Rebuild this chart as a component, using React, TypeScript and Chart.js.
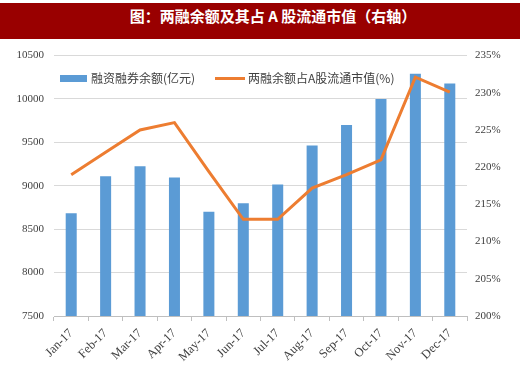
import React, { useEffect, useRef } from "react";
import { Chart, registerables } from "chart.js";

Chart.register(...registerables);

const months = ["Jan-17", "Feb-17", "Mar-17", "Apr-17", "May-17", "Jun-17", "Jul-17", "Aug-17", "Sep-17", "Oct-17", "Nov-17", "Dec-17"];
const balance = [8685, 9110, 9225, 9095, 8700, 8800, 9015, 9465, 9700, 10000, 10290, 10180];
const ratio = [219.0, 222.0, 225.0, 226.0, 219.4, 213.0, 213.0, 217.2, 219.0, 221.0, 232.1, 230.1];
const balanceLabel = "融资融券余额(亿元)";
const ratioLabel = "两融余额占A股流通市值(%)";
const titleText = "图：两融余额及其占 A 股流通市值（右轴）";
const barColor = "#5B9BD5";
const lineColor = "#ED7D31";

export default function App() {
  const ref = useRef<HTMLCanvasElement>(null);
  useEffect(() => {
    document.body.style.margin = "0";
    if (!ref.current) return;
    const tickFont = { family: "'Liberation Serif', serif", size: 11 };
    const chart = new Chart(ref.current, {
      type: "bar",
      data: {
        labels: months,
        datasets: [
          {
            type: "bar",
            label: balanceLabel,
            data: balance,
            backgroundColor: barColor,
            borderWidth: 0,
            barPercentage: 0.32,
            categoryPercentage: 1,
            yAxisID: "y",
            order: 2,
          } as any,
          {
            type: "line",
            label: ratioLabel,
            data: ratio,
            borderColor: lineColor,
            backgroundColor: lineColor,
            borderWidth: 3,
            pointRadius: 0,
            tension: 0,
            yAxisID: "y1",
            order: 1,
          } as any,
        ],
      },
      options: {
        animation: false,
        responsive: false,
        maintainAspectRatio: false,
        layout: { padding: { top: 14, left: 0, right: 0, bottom: 0 } },
        plugins: {
          tooltip: { enabled: false },
          legend: { display: false },
        },
        scales: {
          x: {
            offset: true,
            grid: { display: true, drawOnChartArea: false, drawTicks: true, tickLength: 5, offset: true, color: "#BFBFBF" },
            border: { display: true, color: "#BFBFBF" },
            ticks: { color: "#404040", font: { family: "'Liberation Serif', serif", size: 12.5 }, minRotation: 45, maxRotation: 45, padding: 5 },
            afterFit: (s: any) => { s.height = 50; },
          },
          y: {
            position: "left",
            min: 7500,
            max: 10500,
            grid: { color: "#D9D9D9", drawTicks: false },
            border: { display: false },
            ticks: { stepSize: 500, color: "#404040", font: tickFont, padding: 10, callback: (v: any) => String(v) },
            afterFit: (s: any) => { s.width = 54; },
          },
          y1: {
            position: "right",
            min: 200,
            max: 235,
            grid: { drawOnChartArea: false, drawTicks: false },
            border: { display: false },
            ticks: { stepSize: 5, color: "#404040", font: tickFont, padding: 8, callback: (v: any) => `${v}%` },
            afterFit: (s: any) => { s.width = 53; },
          },
        },
      },
    });
    return () => chart.destroy();
  }, []);

  const legendText: React.CSSProperties = {
    position: "absolute",
    top: 0,
    fontFamily: "'Noto Sans CJK SC', sans-serif",
    fontSize: 12,
    lineHeight: "16px",
    color: "#404040",
    whiteSpace: "nowrap",
  };

  return (
    <div style={{ position: "relative", width: 520, height: 366, background: "#fff", overflow: "hidden" }}>
      <div
        style={{
          position: "absolute",
          top: 3,
          left: 0,
          width: 520,
          height: 36,
          background: "#990000",
          color: "#fff",
          fontFamily: "'Noto Sans CJK SC', sans-serif",
          fontWeight: 700,
          fontSize: 15,
          lineHeight: "26px",
          textAlign: "center",
          paddingLeft: 26,
          boxSizing: "border-box",
        }}
      >
        {titleText}
      </div>
      <div style={{ position: "absolute", top: 39, left: 0, width: 520, height: 327 }}>
        <canvas ref={ref} width={520} height={327} style={{ width: 520, height: 327 }} />
      </div>
      <div style={{ position: "absolute", top: 70, left: 0, width: 520, height: 16 }}>
        <div style={{ position: "absolute", left: 60, top: 4.5, width: 27, height: 7, background: barColor }} />
        <div style={{ ...legendText, left: 91 }}>{balanceLabel}</div>
        <div style={{ position: "absolute", left: 215, top: 7, width: 30, height: 3, background: lineColor }} />
        <div style={{ ...legendText, left: 248 }}>{ratioLabel}</div>
      </div>
    </div>
  );
}
